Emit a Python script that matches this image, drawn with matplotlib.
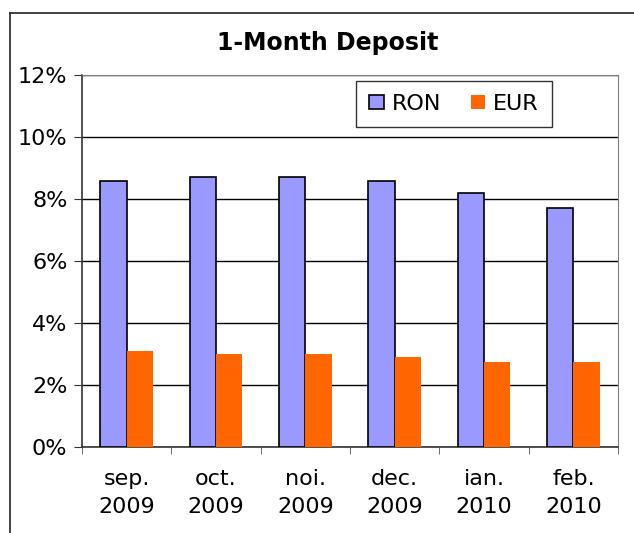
import matplotlib
matplotlib.use("Agg")
import matplotlib.pyplot as plt
import numpy as np
from matplotlib.lines import Line2D

# ── Data ─────────────────────────────────────────────────────────────────────
months = ["sep.\n2009", "oct.\n2009", "noi.\n2009", "dec.\n2009", "ian.\n2010", "feb.\n2010"]
ron = [8.6, 8.7, 8.7, 8.6, 8.2, 7.7]
eur = [3.1, 3.0, 3.0, 2.9, 2.73, 2.73]
yticks = [0, 2, 4, 6, 8, 10, 12]

RON_COLOR = "#9999FF"
EUR_COLOR = "#FF6600"

plt.rcParams["font.family"] = ["DejaVu Sans"]

fig = plt.figure(figsize=(6.34, 5.33), dpi=100)
ax = fig.add_axes([0.1293, 0.162, 0.8455, 0.6967])

x = np.arange(len(months))
w = 0.295
ax.bar(x - w / 2, ron, w, color=RON_COLOR, edgecolor="black", linewidth=1.2,
       label="RON", zorder=3)
ax.bar(x + w / 2, eur, w, color=EUR_COLOR, edgecolor="none", label="EUR", zorder=3)

ax.set_xlim(-0.5, len(months) - 0.5)
ax.set_ylim(0, 12)
ax.set_yticks(yticks)
ax.set_yticklabels([f"{v}%" for v in yticks], fontsize=16)
ax.yaxis.grid(True, color="black", linewidth=1.0, zorder=0)
ax.set_axisbelow(True)

# category labels centred, ticks between categories
ax.set_xticks(x)
ax.set_xticklabels(months, fontsize=16, linespacing=1.5)
ax.tick_params(axis="x", length=0, pad=16)
ax.set_xticks(np.arange(-0.5, len(months)), minor=True)
ax.tick_params(axis="x", which="minor", length=5, direction="out", color="#555555")
ax.tick_params(axis="y", length=5.5, direction="out", pad=5, color="#333333")

for side in ("top", "right"):
    ax.spines[side].set_color("#808080")
for side in ("left", "bottom"):
    ax.spines[side].set_color("#333333")
    ax.spines[side].set_linewidth(1.2)

leg = ax.legend(loc="upper left", bbox_to_anchor=(0.511, 0.986), ncol=2,
                fontsize=16, frameon=True, fancybox=False, handlelength=0.65,
                handleheight=0.65, handletextpad=0.35, columnspacing=1.35,
                borderpad=0.6, borderaxespad=0)
leg.get_frame().set_edgecolor("black")
leg.get_frame().set_linewidth(1.0)

fig.text(0.517, 1 - 43 / 533, "1-Month Deposit", ha="center", va="center",
         fontsize=17, fontweight="bold")

# chart-area border (runs off the right and bottom of the image)
fig.add_artist(Line2D([0.015, 0.015], [0, 1 - 13.3 / 533], transform=fig.transFigure,
                      color="#222222", linewidth=1.2))
fig.add_artist(Line2D([0.015, 1], [1 - 13.3 / 533, 1 - 13.3 / 533],
                      transform=fig.transFigure, color="#222222", linewidth=1.2))

fig.savefig("out.png", dpi=100)
